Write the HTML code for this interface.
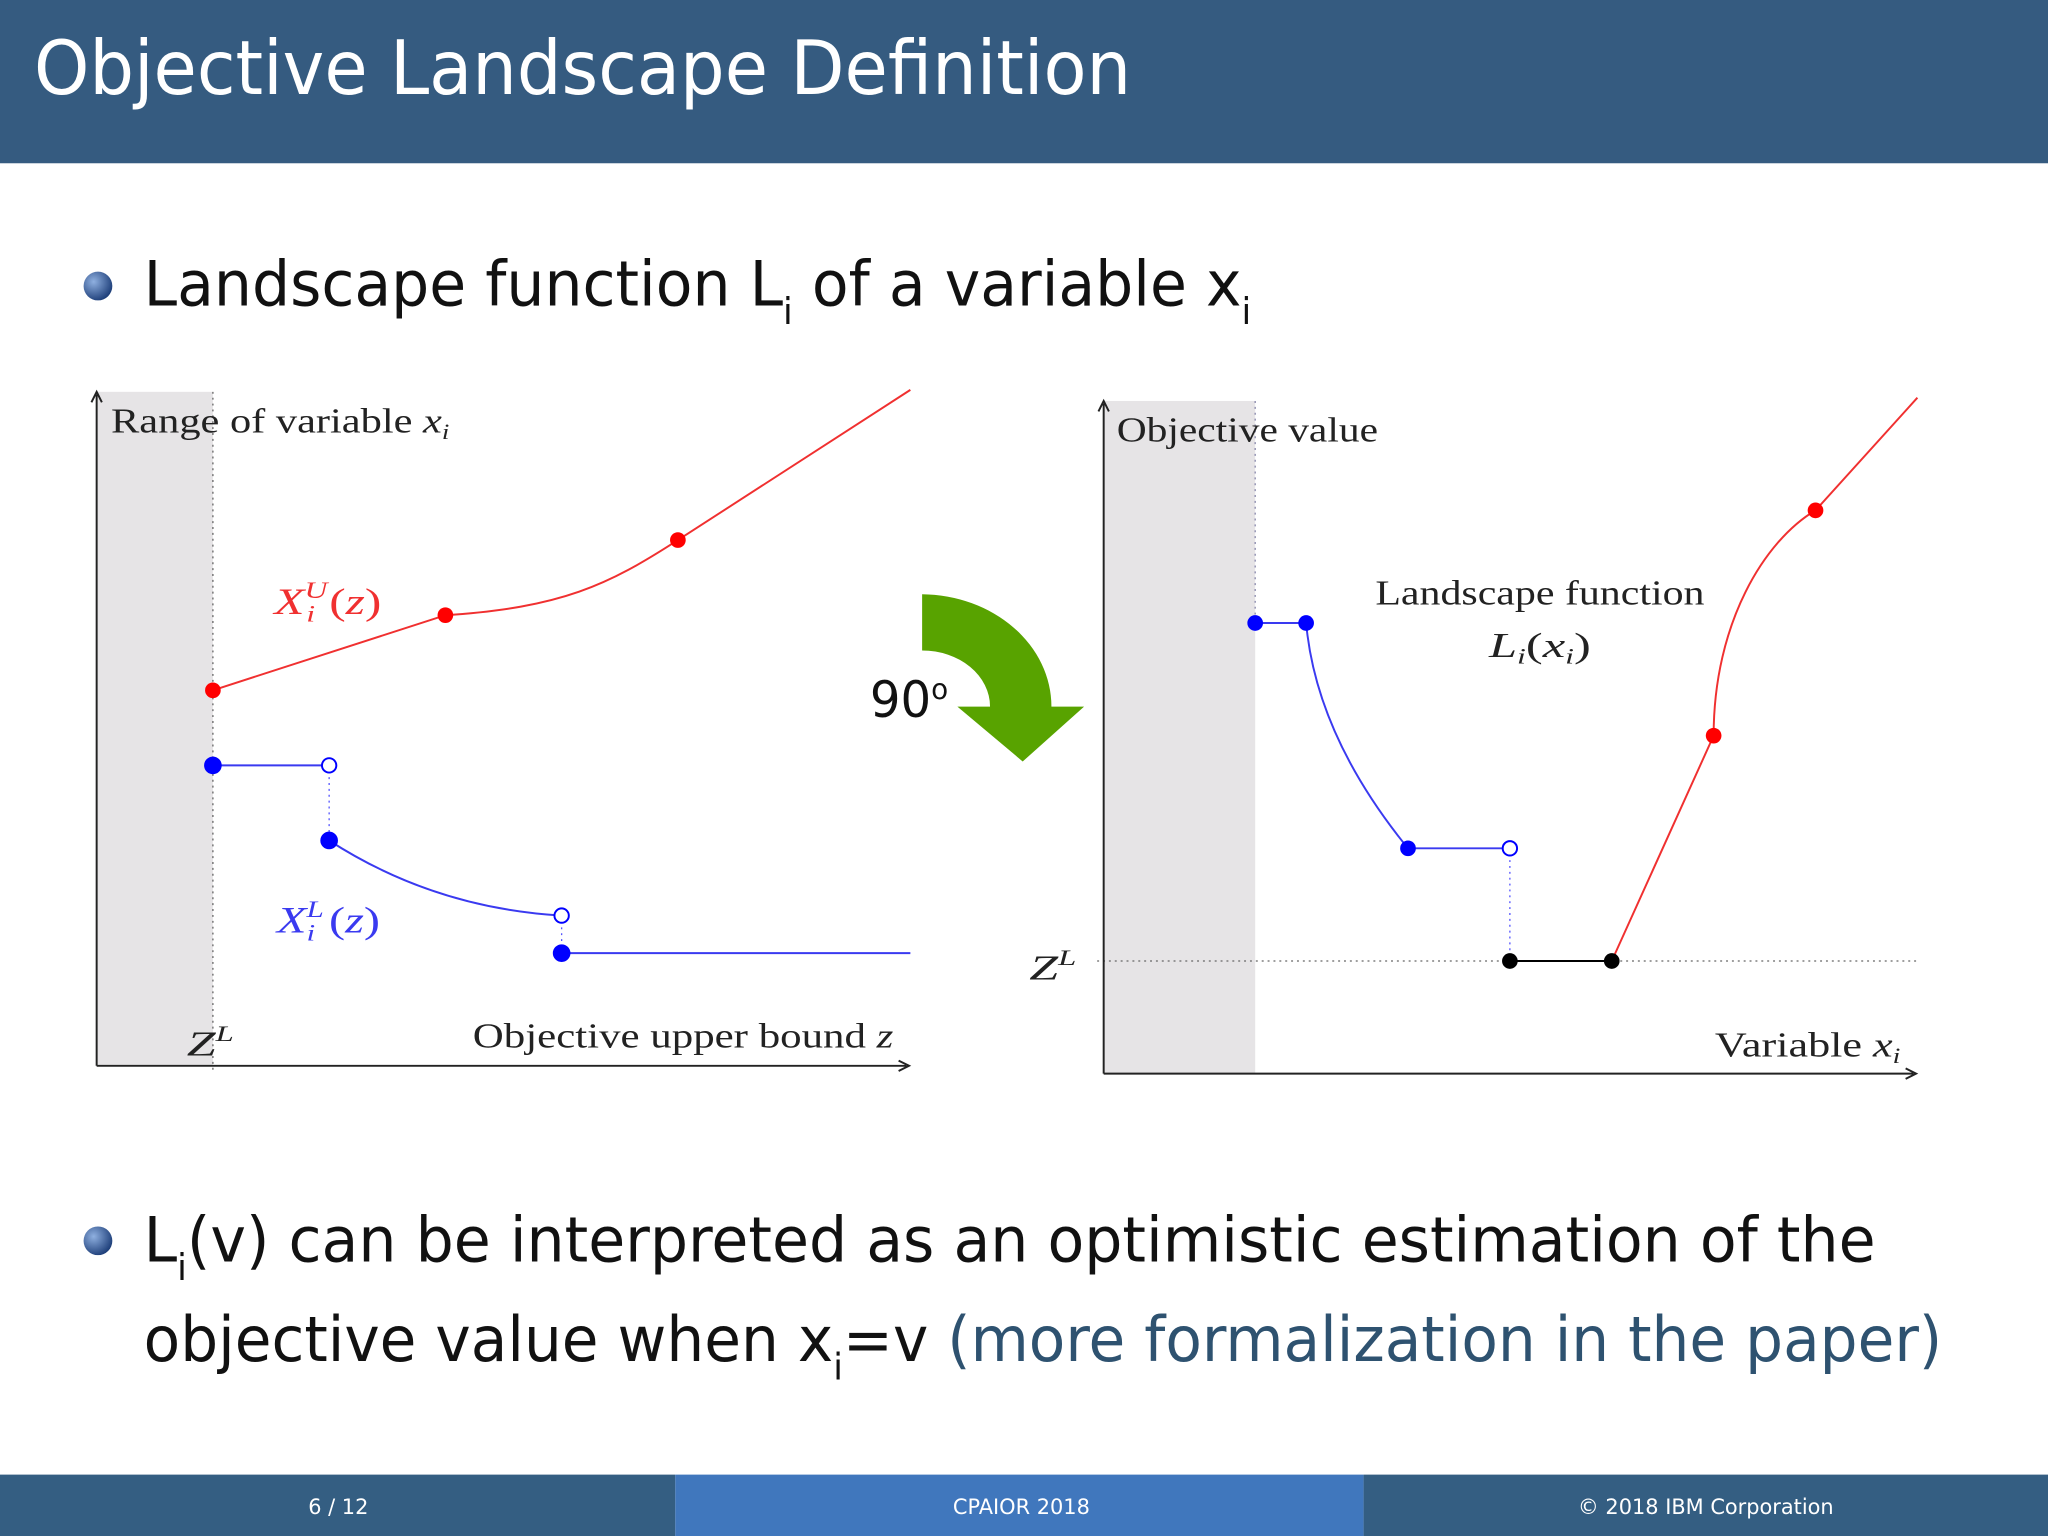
<!DOCTYPE html>
<html><head><meta charset="utf-8"><style>
html,body{margin:0;padding:0;background:#fff}
svg{display:block}
.serif{font-family:"Liberation Serif",serif}
.sans{font-family:"DejaVu Sans","Liberation Sans",sans-serif}
</style></head><body>
<svg width="2048" height="1536" viewBox="0 0 1568 1176">
<rect x="0" y="0" width="1568" height="125" fill="#355b80"/>
<text x="26" y="72" class="sans" font-size="57" fill="#fff" textLength="840" lengthAdjust="spacingAndGlyphs">Objective Landscape Definition</text>
<defs><radialGradient id="bg" cx="0.35" cy="0.35" r="0.7"><stop offset="0" stop-color="#8fb0e0"/><stop offset="1" stop-color="#1c3d78"/></radialGradient></defs>
<circle cx="75" cy="219" r="11" fill="url(#bg)"/>
<text x="110" y="234" class="sans" font-size="48" fill="#111" textLength="848" lengthAdjust="spacingAndGlyphs">Landscape function L<tspan font-size="28" dy="14">i</tspan><tspan dy="-14"> of a variable x</tspan><tspan font-size="28" dy="14">i</tspan></text>
<circle cx="75" cy="950" r="11" fill="url(#bg)"/>
<text x="110" y="966" class="sans" font-size="48" fill="#111" textLength="1326" lengthAdjust="spacingAndGlyphs">L<tspan font-size="28" dy="14">i</tspan><tspan dy="-14">(v) can be interpreted as an optimistic estimation of the</tspan></text>
<text x="110" y="1042" class="sans" font-size="48" fill="#111" textLength="1377" lengthAdjust="spacingAndGlyphs">objective value when x<tspan font-size="28" dy="14">i</tspan><tspan dy="-14">=v </tspan><tspan fill="#2e5270">(more formalization in the paper)</tspan></text>

<g id="left"></g>
<g id="right"></g>

<path d="M706,455 A100,86 0 0 1 805,541 L830,541 L783,583 L733,541 L758,541 A52,43 0 0 0 706,498 Z" fill="#58a300"/>
<text x="666" y="549" class="sans" font-size="38" fill="#111" textLength="60" lengthAdjust="spacingAndGlyphs">90<tspan font-size="22" dy="-14">o</tspan></text>

<rect x="0" y="1129" width="517" height="47" fill="#345e82"/>
<rect x="517" y="1129" width="527" height="47" fill="#4077bd"/>
<rect x="1044" y="1129" width="524" height="47" fill="#345e82"/>
<text x="259" y="1159" text-anchor="middle" class="sans" font-size="16" fill="#fff">6 / 12</text>
<text x="782" y="1159" text-anchor="middle" class="sans" font-size="16" fill="#fff">CPAIOR 2018</text>
<text x="1306" y="1159" text-anchor="middle" class="sans" font-size="16" fill="#fff">© 2018 IBM Corporation</text>
</svg>
<script>
// Left chart data (z units, value units)
const upperX = [0, 2, 4, 6];
const upperY = [5, 6, 7, 9];
const lowerSeg1X = [0, 1];
const lowerSeg1Y = [4, 4];
const lowerSeg2X = [1, 3];
const lowerSeg2Y = [3, 2];
const lowerSeg3X = [3, 6];
const lowerSeg3Y = [1.5, 1.5];
// Right chart data
const rBlueX = [0, 1, 3, 5];
const rBlueY = [6, 6, 3, 3];
const rBlackX = [5, 7];
const rBlackY = [1.5, 1.5];
const rRedX = [7, 9, 11, 13];
const rRedY = [1.5, 4.5, 7.5, 9];
const zL = 1.5;

const NS = 'http://www.w3.org/2000/svg';
function mk(parent, tag, attrs) { const e = document.createElementNS(NS, tag); for (const k in attrs) e.setAttribute(k, attrs[k]); parent.appendChild(e); return e; }

// ---- left chart
const L = document.getElementById('left');
const lx = v => 163 + v * 89, ly = v => 816 - v * 57.5;
let e;
e = mk(L, 'rect', {x:74, y:300, width:89, height:516, fill:'#e6e4e6'});


e = mk(L, 'line', {x1:163, y1:300, x2:163, y2:822, stroke:'#666', 'stroke-dasharray':'1.5,3'});


e = mk(L, 'path', {d:'M74,816 L694,816 M688,812 L696,816 L688,820 M74,816 L74,302 M70,308 L74,300 L78,308', stroke:'#222', 'stroke-width':1.5, fill:'none'});


e = mk(L, 'path', {d:`M${lx(upperX[0])},${ly(upperY[0])} L${lx(upperX[1])},${ly(upperY[1])} C${lx(upperX[1]+1)},${ly(upperY[1]+0.1)} ${lx(upperX[2]-0.6)},${ly(upperY[2]-0.6)} ${lx(upperX[2])},${ly(upperY[2])} L${lx(upperX[3])},${ly(upperY[3])}`, stroke:'#f03030', 'stroke-width':1.5, fill:'none'});


for (let i = 0; i < 3; i++) { e = mk(L, 'circle', {cx:lx(upperX[i]), cy:ly(upperY[i]), r:6, fill:'#f00'});

 }
e = mk(L, 'path', {d:`M${lx(lowerSeg1X[0])},${ly(lowerSeg1Y[0])} L${lx(lowerSeg1X[1])},${ly(lowerSeg1Y[1])} M${lx(lowerSeg2X[0])},${ly(lowerSeg2Y[0])} Q${lx(lowerSeg2X[0]+0.9)},${ly(lowerSeg2Y[1]+0.1)} ${lx(lowerSeg2X[1])},${ly(lowerSeg2Y[1])} M${lx(lowerSeg3X[0])},${ly(lowerSeg3Y[0])} L${lx(lowerSeg3X[1])},${ly(lowerSeg3Y[1])}`, stroke:'#3a3af0', 'stroke-width':1.5, fill:'none'});


e = mk(L, 'path', {d:`M${lx(1)},${ly(4)} L${lx(1)},${ly(3)} M${lx(3)},${ly(2)} L${lx(3)},${ly(1.5)}`, stroke:'#55f', 'stroke-dasharray':'1.5,3', fill:'none'});


[[lowerSeg1X[0],lowerSeg1Y[0],1],[lowerSeg1X[1],lowerSeg1Y[1],0],[lowerSeg2X[0],lowerSeg2Y[0],1],[lowerSeg2X[1],lowerSeg2Y[1],0],[lowerSeg3X[0],lowerSeg3Y[0],1]].forEach(p => {
 e = mk(L, 'circle', {cx:lx(p[0]), cy:ly(p[1]), r:p[2]?6:5.5, fill:p[2]?'#00f':'#fff', stroke:'#00f', 'stroke-width':1.5});
 
 
});
function txt(p, x, y, s, html, name, color, len) { const t = mk(p, 'text', {x:x, y:y, 'font-size':s, fill:color||'#222', class:'serif'}); if (len) { t.setAttribute('textLength', len); t.setAttribute('lengthAdjust', 'spacingAndGlyphs'); } t.innerHTML = html;   return t; }
txt(L, 85, 331, 27, 'Range of variable <tspan font-style="italic">x</tspan><tspan font-style="italic" font-size="17" dy="5">i</tspan>', 'y-axis-title', null, 259);
txt(L, 362, 802, 27, 'Objective upper bound <tspan font-style="italic">z</tspan>', 'x-axis-title', null, 322);
txt(L, 143, 808, 27, '<tspan font-style="italic">Z</tspan><tspan font-style="italic" font-size="17" dy="-11">L</tspan>', 'zl-label', null, 36);
txt(L, 210, 470, 28, '<tspan font-style="italic">X</tspan><tspan font-style="italic" font-size="18" dy="-12">U</tspan><tspan font-style="italic" font-size="18" dx="-12" dy="18">i</tspan><tspan dy="-6" dx="8">(</tspan><tspan font-style="italic">z</tspan>)', 'upper-bound-label', '#f03030', 82);
txt(L, 212, 714, 28, '<tspan font-style="italic">X</tspan><tspan font-style="italic" font-size="18" dy="-12">L</tspan><tspan font-style="italic" font-size="18" dx="-10" dy="18">i</tspan><tspan dy="-6" dx="8">(</tspan><tspan font-style="italic">z</tspan>)', 'lower-bound-label', '#3a3af0', 79);

// ---- right chart
const R = document.getElementById('right');
const rx = v => 961 + v * 39, ry = v => 822 - v * 57.5;
e = mk(R, 'rect', {x:845, y:307, width:116, height:515, fill:'#e6e4e6'});


e = mk(R, 'line', {x1:961, y1:307, x2:961, y2:478, stroke:'#88a', 'stroke-dasharray':'1.5,3'});


e = mk(R, 'line', {x1:840, y1:ry(zL), x2:1467, y2:ry(zL), stroke:'#666', 'stroke-dasharray':'1.5,3'});


e = mk(R, 'path', {d:'M845,822 L1465,822 M1459,818 L1467,822 L1459,826 M845,822 L845,309 M841,315 L845,307 L849,315', stroke:'#222', 'stroke-width':1.5, fill:'none'});


e = mk(R, 'path', {d:`M${rx(rBlueX[0])},${ry(rBlueY[0])} L${rx(rBlueX[1])},${ry(rBlueY[1])} Q${rx(rBlueX[1]+0.2)},${ry(rBlueY[2]+1.5)} ${rx(rBlueX[2])},${ry(rBlueY[2])} L${rx(rBlueX[3])},${ry(rBlueY[3])}`, stroke:'#3a3af0', 'stroke-width':1.5, fill:'none'});


e = mk(R, 'line', {x1:rx(5), y1:ry(3), x2:rx(5), y2:ry(zL), stroke:'#55f', 'stroke-dasharray':'1.5,3'});


e = mk(R, 'line', {x1:rx(rBlackX[0]), y1:ry(rBlackY[0]), x2:rx(rBlackX[1]), y2:ry(rBlackY[1]), stroke:'#000', 'stroke-width':1.5});


e = mk(R, 'path', {d:`M${rx(rRedX[0])},${ry(rRedY[0])} L${rx(rRedX[1])},${ry(rRedY[1])} C${rx(rRedX[1])},${ry(rRedY[1]+1.5)} ${rx(rRedX[2]-1)},${ry(rRedY[2]-0.4)} ${rx(rRedX[2])},${ry(rRedY[2])} L${rx(rRedX[3])},${ry(rRedY[3])}`, stroke:'#f03030', 'stroke-width':1.5, fill:'none'});


for (let i = 0; i < 3; i++) { e = mk(R, 'circle', {cx:rx(rBlueX[i]), cy:ry(rBlueY[i]), r:6, fill:'#00f'});

 }
e = mk(R, 'circle', {cx:rx(rBlueX[3]), cy:ry(rBlueY[3]), r:5.5, fill:'#fff', stroke:'#00f', 'stroke-width':1.5});


for (let i = 0; i < 2; i++) { e = mk(R, 'circle', {cx:rx(rBlackX[i]), cy:ry(rBlackY[i]), r:6, fill:'#000'});

 }
for (let i = 1; i < 3; i++) { e = mk(R, 'circle', {cx:rx(rRedX[i]), cy:ry(rRedY[i]), r:6, fill:'#f00'});

 }
txt(R, 855, 338, 27, 'Objective value', 'y-axis-title', null, 200);
txt(R, 1313, 809, 27, 'Variable <tspan font-style="italic">x</tspan><tspan font-style="italic" font-size="17" dy="5">i</tspan>', 'x-axis-title', null, 142);
txt(R, 788, 750, 27, '<tspan font-style="italic">Z</tspan><tspan font-style="italic" font-size="17" dy="-11">L</tspan>', 'zl-label', null, 36);
txt(R, 1053, 463, 27, 'Landscape function', 'landscape-label', null, 252);
txt(R, 1140, 503, 27, '<tspan font-style="italic">L</tspan><tspan font-style="italic" font-size="17" dy="5">i</tspan><tspan dy="-5">(</tspan><tspan font-style="italic">x</tspan><tspan font-style="italic" font-size="17" dy="5">i</tspan><tspan dy="-5">)</tspan>', 'landscape-formula', null, 78);
</script>
</body></html>
